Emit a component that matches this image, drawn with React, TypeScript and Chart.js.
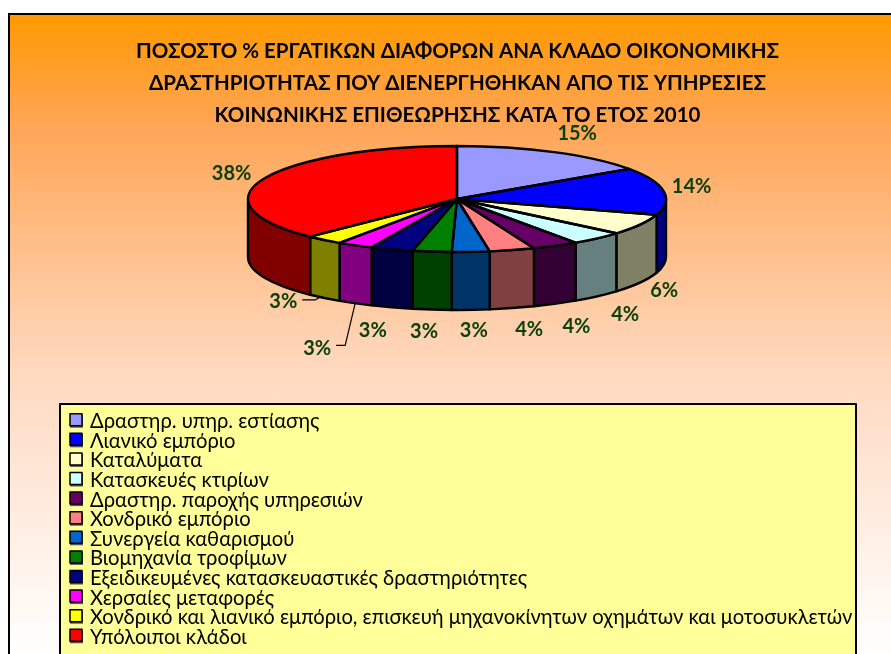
import React, { useEffect, useRef } from "react";
import { Chart, registerables } from "chart.js";

Chart.register(...registerables);

const categories = [
  "Δραστηρ. υπηρ. εστίασης",
  "Λιανικό εμπόριο",
  "Καταλύματα",
  "Κατασκευές κτιρίων",
  "Δραστηρ. παροχής υπηρεσιών",
  "Χονδρικό εμπόριο",
  "Συνεργεία καθαρισμού",
  "Βιομηχανία τροφίμων",
  "Εξειδικευμένες κατασκευαστικές δραστηριότητες",
  "Χερσαίες μεταφορές",
  "Χονδρικό και λιανικό εμπόριο, επισκευή μηχανοκίνητων οχημάτων και μοτοσυκλετών",
  "Υπόλοιποι κλάδοι",
];
const values = [15.4, 14.4, 6.4, 4.2, 3.6, 3.5, 2.9, 3.0, 3.3, 2.8, 2.9, 37.6];
const topColors = ["#9999FF", "#0000FF", "#FFFFCC", "#CCFFFF", "#660066", "#FF8080", "#0066CC", "#008000", "#000080", "#FF00FF", "#FFFF00", "#FF0000"];
const sideColors = ["#4D4D80", "#000080", "#808066", "#668080", "#330033", "#804040", "#003366", "#004000", "#000040", "#800080", "#808000", "#800000"];
const titleLines = [
  "ΠΟΣΟΣΤΟ % ΕΡΓΑΤΙΚΩΝ ΔΙΑΦΟΡΩΝ ΑΝΑ ΚΛΑΔΟ ΟΙΚΟΝΟΜΙΚΗΣ",
  "ΔΡΑΣΤΗΡΙΟΤΗΤΑΣ ΠΟΥ ΔΙΕΝΕΡΓΗΘΗΚΑΝ ΑΠΟ ΤΙΣ ΥΠΗΡΕΣΙΕΣ",
  "ΚΟΙΝΩΝΙΚΗΣ ΕΠΙΘΕΩΡΗΣΗΣ ΚΑΤΑ ΤΟ ΕΤΟΣ 2010",
];

// Layout only: nudges of each percentage label from its slice's rim point
const labelNudges: [number, number][] = [[23, -19], [28, -4], [24, 66], [28, 76], [21, 81], [17, 79], [3, 79], [-8, 80], [-19, 81], [-38, 103], [-41, 62], [-32, -5]];
const leaders: Record<number, [number, number][]> = {
  9: [[19, -3], [28, -3], [38, -45]],
  10: [[19, -2], [32, -2], [37, -5]],
};

const FONT = "Lato, 'Open Sans', sans-serif";
const CX = 457, CY = 199, RX = 209, RY = 53, DEPTH = 58;

const pie3d = {
  id: "pie3d",
  beforeDraw(chart: any) {
    const { ctx, width, height } = chart;
    ctx.save();
    const g = ctx.createLinearGradient(0, 14, 0, height);
    g.addColorStop(0, "#FF9900");
    g.addColorStop(0.17, "#FFA555");
    g.addColorStop(0.55, "#FFD8BE");
    g.addColorStop(1, "#FFFFFF");
    ctx.fillStyle = g;
    ctx.fillRect(9, 14, width, height);
    ctx.strokeStyle = "#000";
    ctx.lineWidth = 2;
    ctx.strokeRect(9, 14, width + 10, height + 10);
    ctx.restore();
  },
  beforeDatasetsDraw(chart: any) {
    const { ctx } = chart;
    const arcs = chart.getDatasetMeta(0).data;
    ctx.save();
    ctx.lineWidth = 2.4;
    ctx.strokeStyle = "#000";
    ctx.lineJoin = "round";
    arcs.forEach((arc: any, i: number) => {
      const lo = Math.max(arc.startAngle, 0);
      const hi = Math.min(arc.endAngle, Math.PI);
      if (hi <= lo) return;
      ctx.beginPath();
      ctx.ellipse(CX, CY, RX, RY, 0, lo, hi);
      ctx.ellipse(CX, CY + DEPTH, RX, RY, 0, hi, lo, true);
      ctx.closePath();
      ctx.fillStyle = sideColors[i];
      ctx.fill();
      ctx.stroke();
    });
    ctx.restore();
    const a0 = arcs[0];
    ctx.save();
    ctx.translate(CX, CY);
    ctx.scale(RX / a0.outerRadius, RY / a0.outerRadius);
    ctx.translate(-a0.x, -a0.y);
  },
  afterDatasetsDraw(chart: any) {
    const { ctx } = chart;
    ctx.restore();
    const arcs = chart.getDatasetMeta(0).data;
    ctx.save();
    ctx.lineWidth = 2.4;
    ctx.strokeStyle = "#000";
    ctx.lineJoin = "round";
    arcs.forEach((arc: any) => {
      ctx.beginPath();
      ctx.moveTo(CX, CY);
      ctx.ellipse(CX, CY, RX, RY, 0, arc.startAngle, arc.endAngle);
      ctx.closePath();
      ctx.stroke();
    });
    // percentage labels
    const total = values.reduce((a, b) => a + b, 0);
    ctx.font = `bold 20px ${FONT}`;
    ctx.textAlign = "center";
    ctx.textBaseline = "middle";
    arcs.forEach((arc: any, i: number) => {
      const mid = (arc.startAngle + arc.endAngle) / 2;
      const x = CX + RX * Math.cos(mid) + labelNudges[i][0];
      const y = CY + RY * Math.sin(mid) + labelNudges[i][1];
      ctx.fillStyle = "#0A400A";
      ctx.fillText(`${Math.round((values[i] / total) * 100)}%`, x, y);
      const l = leaders[i];
      if (l) {
        ctx.beginPath();
        ctx.lineWidth = 1.2;
        l.forEach(([dx, dy], k) => (k ? ctx.lineTo(x + dx, y + dy) : ctx.moveTo(x + dx, y + dy)));
        ctx.stroke();
      }
    });
    // legend box
    ctx.fillStyle = "#FFFF99";
    ctx.lineWidth = 2;
    ctx.fillRect(60, 404, 796, 260);
    ctx.strokeRect(60, 404, 796, 260);
    ctx.textAlign = "left";
    ctx.font = `20.2px ${FONT}`;
    categories.forEach((name, i) => {
      const y = 421.7 + i * 19.6;
      ctx.fillStyle = "#555";
      ctx.fillRect(70, y - 7, 13, 13);
      ctx.fillStyle = topColors[i];
      ctx.lineWidth = 1.5;
      ctx.fillRect(70, y - 8, 12, 12);
      ctx.strokeRect(70, y - 8, 12, 12);
      ctx.fillStyle = "#000";
      ctx.fillText(name, 90, y);
    });
    ctx.restore();
  },
};

export default function App() {
  const ref = useRef<HTMLCanvasElement>(null);
  useEffect(() => {
    const chart = new Chart(ref.current!, {
      type: "pie",
      data: {
        labels: categories,
        datasets: [{ data: values, backgroundColor: topColors, borderWidth: 0 }],
      },
      options: {
        responsive: false,
        animation: false,
        devicePixelRatio: 1,
        radius: 209,
        layout: { padding: { left: 24 } },
        plugins: {
          legend: { display: false },
          tooltip: { enabled: false },
          title: {
            display: true,
            text: titleLines,
            color: "#000",
            font: { family: FONT, size: 20.5, weight: "bold", lineHeight: 32 / 20.5 },
            padding: { top: 35, bottom: 0 },
          },
        },
      },
      plugins: [pie3d],
    } as any);
    return () => chart.destroy();
  }, []);
  return (
    <div style={{ position: "fixed", left: 0, top: 0, width: 891, height: 654, background: "#fff" }}>
      <canvas ref={ref} width={891} height={654} style={{ display: "block" }} />
    </div>
  );
}
